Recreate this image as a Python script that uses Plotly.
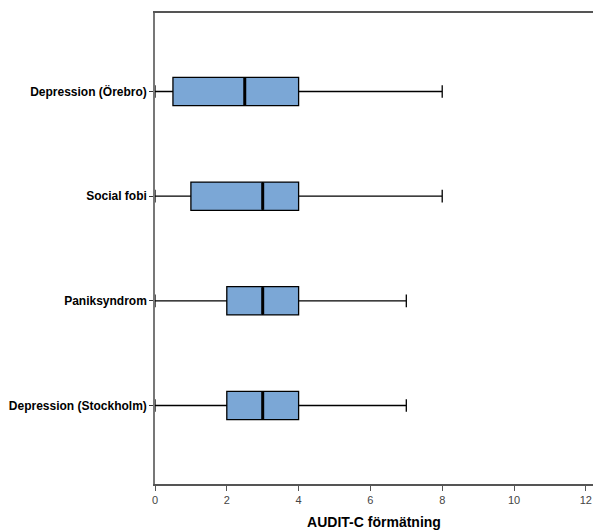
import plotly.graph_objects as go

categories = ["Depression (Stockholm)", "Paniksyndrom", "Social fobi", "Depression (Örebro)"]
q1 = [2, 2, 1, 0.5]
median = [3, 3, 3, 2.5]
q3 = [4, 4, 4, 4]
lower = [0, 0, 0, 0]
upper = [7, 7, 8, 8]
x_ticks = [0, 2, 4, 6, 8, 10, 12]

fig = go.Figure()
fig.add_trace(go.Box(
    y=categories, q1=q1, median=median, q3=q3,
    lowerfence=lower, upperfence=upper,
    orientation="h",
    fillcolor="#7BA7D6",
    line=dict(color="#000000", width=1.3),
    width=0.27, whiskerwidth=0.45,
    hoverinfo="skip", showlegend=False,
))
# thicker median lines
for i, m in enumerate(median):
    fig.add_shape(type="line", xref="x", yref="y",
                  x0=m, x1=m, y0=i - 0.13, y1=i + 0.13,
                  line=dict(color="#000000", width=3))

fig.update_layout(
    width=593, height=532,
    margin=dict(l=155, r=0, t=13, b=48),
    plot_bgcolor="white", paper_bgcolor="white",
    font=dict(family="Liberation Sans, Arial", color="#222"),
)
fig.update_xaxes(
    range=[0, 12.2], tickvals=x_ticks, showgrid=False, zeroline=False,
    showline=True, linecolor="#555", linewidth=1.5, mirror=True,
    ticks="outside", ticklen=5, tickcolor="#555",
    tickfont=dict(size=11, color="#444"),
    ticklabeloverflow="allow", automargin=False,
    title=dict(text="<b>AUDIT-C förmätning</b>",
               font=dict(size=14, color="#000", family="Liberation Sans, Arial"), standoff=12),
)
fig.update_yaxes(
    type="category", categoryorder="array", categoryarray=categories,
    range=[-0.75, 3.75], showgrid=False, zeroline=False,
    showline=True, linecolor="#777", linewidth=1.5,
    ticks="outside", ticklen=4, tickcolor="#333", automargin=False,
    tickvals=categories, ticktext=[f"<b>{c}</b>" for c in categories],
    tickfont=dict(size=12, color="#000", family="Liberation Sans Narrow, Arial Narrow, Liberation Sans"),
)
fig.write_html("out.html", config={"displayModeBar": False},
               post_script="document.body.style.margin='0';document.body.style.overflow='hidden';")
